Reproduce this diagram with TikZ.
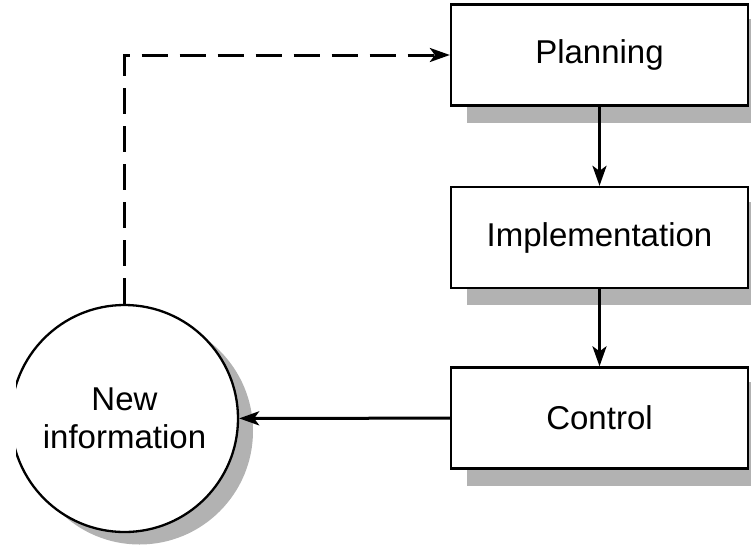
\documentclass[tikz,border=0pt]{standalone}
\usepackage{fontspec}
\setmainfont{Liberation Sans}
\usetikzlibrary{arrows.meta,backgrounds}
\begin{document}
\begin{tikzpicture}[x=1pt,y=-1pt,
  txt/.style={font=\fontsize{33}{38}\selectfont},
  box/.style={txt,draw=black,line width=2.3pt,fill=white,minimum width=297pt,minimum height=101pt,inner sep=0pt},
  circ/.style={txt,circle,draw=black,line width=2.3pt,fill=white,minimum size=227pt,inner sep=0pt,align=center},
  shade/.style={fill=black!30},
  arr/.style={line width=3pt,-{Stealth[length=20pt,width=14pt,inset=5pt]}},
  darr/.style={arr,dash pattern=on 26pt off 12pt},
]
\useasboundingbox (0,0) rectangle (751,546);
\node[box] (P) at (599.5,55) {Planning};
\node[box] (I) at (599.5,237.5) {Implementation};
\node[box] (C) at (599.5,418) {Control};
\begin{scope}[on background layer]
  \foreach \n in {P,I,C}{
    \fill[shade] ([shift={(17,16)}]\n.north west) rectangle ([shift={(17,16)}]\n.south east);
  }
\end{scope}
\begin{scope}
  \clip (16,0) rectangle (751,546);
  \fill[shade] (139.5,431) circle (113.5pt);
  \node[circ] (N) at (124.5,418.5) {New\\information};
\end{scope}
\draw[arr] (P) -- (I);
\draw[arr] (I) -- (C);
\draw[arr] (C) -- (N);
\draw[darr] (N.north) -- (N.north |- P.west) -- (P.west);
\end{tikzpicture}
\end{document}
